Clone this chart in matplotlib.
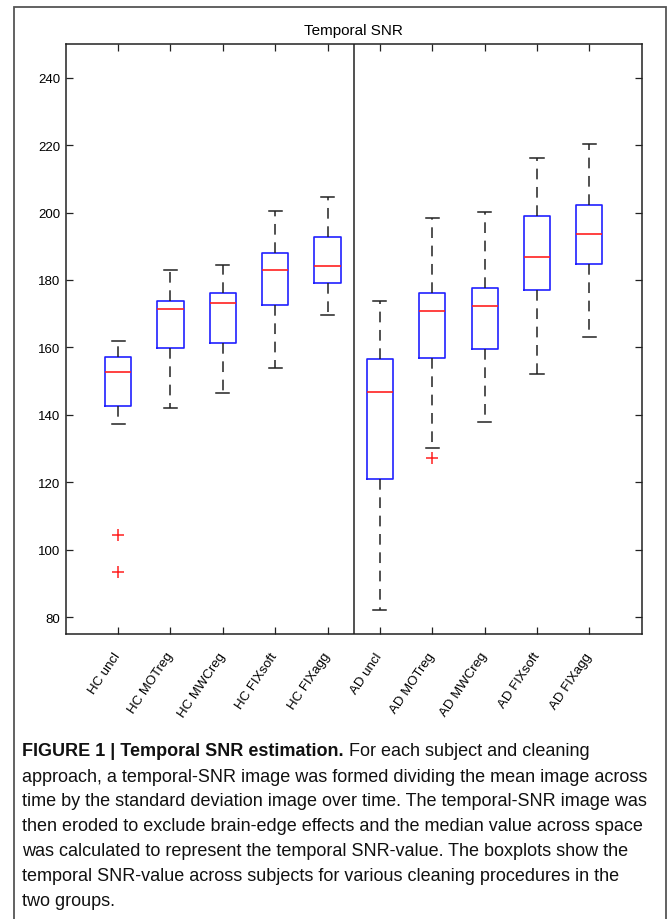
import matplotlib
matplotlib.use('Agg')
import matplotlib.pyplot as plt
from matplotlib.patches import Rectangle

plt.rcParams['font.family'] = ['Liberation Sans', 'DejaVu Sans']

# Box statistics (temporal SNR)
labels = ['HC uncl', 'HC MOTreg', 'HC MWCreg', 'HC FIXsoft', 'HC FIXagg',
          'AD uncl', 'AD MOTreg', 'AD MWCreg', 'AD FIXsoft', 'AD FIXagg']
whislo = [137.4, 141.9, 146.4, 153.9, 169.7, 82.0, 130.2, 137.9, 152.1, 163.2]
q1 = [142.5, 159.9, 161.3, 172.7, 179.0, 121.0, 156.9, 159.6, 177.0, 184.8]
med = [152.7, 171.3, 173.3, 183.0, 184.2, 146.7, 170.9, 172.4, 186.8, 193.7]
q3 = [157.2, 173.9, 176.0, 188.1, 192.7, 156.6, 176.0, 177.6, 199.0, 202.2]
whishi = [161.9, 182.9, 184.5, 200.6, 204.5, 173.7, 198.3, 200.1, 216.3, 220.4]
fliers = [[104.3, 93.4], [], [], [], [], [], [127.2], [], [], []]

yticks = [80, 100, 120, 140, 160, 180, 200, 220, 240]

caption_bold = 'FIGURE 1 | Temporal SNR estimation.'
caption_lines = [
    ' For each subject and cleaning',
    'approach, a temporal-SNR image was formed dividing the mean image across',
    'time by the standard deviation image over time. The temporal-SNR image was',
    'then eroded to exclude brain-edge effects and the median value across space',
    'was calculated to represent the temporal SNR-value. The boxplots show the',
    'temporal SNR-value across subjects for various cleaning procedures in the',
    'two groups.',
]

W, H = 669, 920
fig = plt.figure(figsize=(W / 100, H / 100), dpi=100)
fig.patch.set_facecolor('white')

# outer frame around figure + caption
fig.patches.append(Rectangle((14 / W, -0.01), 652 / W, 1 - 8 / H + 0.01,
                             transform=fig.transFigure, fill=False,
                             edgecolor='#555555', lw=1.3))

ax = fig.add_axes([65.7 / W, 1 - 635 / H, 576 / W, 590 / H])

stats = []
for i in range(len(labels)):
    stats.append({'label': labels[i], 'whislo': whislo[i], 'q1': q1[i],
                  'med': med[i], 'q3': q3[i], 'whishi': whishi[i],
                  'fliers': fliers[i]})

ax.bxp(stats, positions=range(1, 11), widths=0.5, showfliers=True,
       boxprops=dict(color='#2020ff', lw=1.2),
       medianprops=dict(color='#ff2020', lw=1.2),
       whiskerprops=dict(color='#222222', lw=1.1, linestyle=(0, (7, 5))),
       capprops=dict(color='#222222', lw=1.1),
       flierprops=dict(marker='+', markeredgecolor='#ff2020',
                       markersize=8, markeredgewidth=1.1, linestyle='none'))

ax.axvline(5.5, color='#222222', lw=1.1)

ax.set_xlim(0, 11)
ax.set_ylim(75, 250)
ax.set_yticks(yticks)
ax.set_xticks(range(1, 11))
ax.set_xticklabels(labels, rotation=56, ha='right', va='center',
                   rotation_mode='anchor')
ax.tick_params(direction='in', length=5, width=0.9, color='#222222',
               top=True, right=True, labelsize=9.5, pad=4)
ax.tick_params(axis='x', pad=14)
for s in ax.spines.values():
    s.set_color('#222222')
    s.set_linewidth(1.1)
ax.set_title('Temporal SNR', fontsize=11, pad=7)

# caption with bold lead-in
fs = 13.0
x0 = 22 / W
ys = [752, 777.5, 802, 827, 852, 877, 902]
t = fig.text(x0, 1 - ys[0] / H, caption_bold, fontsize=fs, fontweight='bold',
             va='center', ha='left', color='#111111')
r = fig.canvas.get_renderer()
bb = t.get_window_extent(renderer=r)
fig.text(bb.x1 / W, 1 - ys[0] / H, caption_lines[0], fontsize=fs,
         va='center', ha='left', color='#111111')
for k in range(1, len(caption_lines)):
    fig.text(x0, 1 - ys[k] / H, caption_lines[k], fontsize=fs,
             va='center', ha='left', color='#111111')

fig.savefig('out.png', dpi=100)
